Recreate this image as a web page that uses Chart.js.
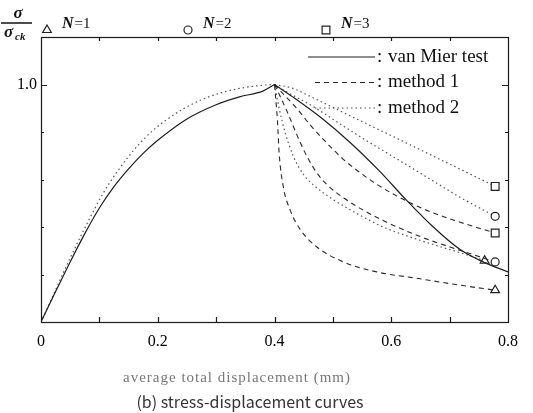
<!DOCTYPE html>
<html>
<head>
<meta charset="utf-8">
<script src="https://cdn.jsdelivr.net/npm/chart.js@4.4.1/dist/chart.umd.min.js"></script>
<style>
  html, body { margin: 0; padding: 0; background: #fff; }
  #wrap { width: 533px; height: 413px; }
</style>
</head>
<body>
<div id="wrap"><canvas id="chart" width="533" height="413"></canvas></div>
<script>
// van Mier test (split at the peak so the cusp stays sharp)
const testPreX  = [0, 0.025, 0.05, 0.075, 0.10, 0.125, 0.15, 0.175, 0.20, 0.25, 0.30, 0.34, 0.38, 0.40];
const testPreY  = [0, 0.128, 0.253, 0.372, 0.48, 0.57, 0.645, 0.71, 0.765, 0.855, 0.915, 0.948, 0.972, 1.0];
const testPostX = [0.40, 0.43, 0.48, 0.53, 0.58, 0.626, 0.672, 0.718, 0.76, 0.80];
const testPostY = [1.0, 0.95, 0.86, 0.755, 0.635, 0.513, 0.40, 0.305, 0.25, 0.211];

// both methods, pre-peak branch
const methodPreX = [0, 0.025, 0.05, 0.077, 0.106, 0.134, 0.163, 0.191, 0.22, 0.248, 0.277, 0.311, 0.346, 0.385, 0.40];
const methodPreY = [0, 0.135, 0.27, 0.405, 0.54, 0.645, 0.735, 0.805, 0.86, 0.903, 0.938, 0.967, 0.986, 0.998, 1.0];

// method 1, softening branch, N = 1, 2, 3
const m1n1X = [0.40, 0.405, 0.408, 0.415, 0.427, 0.444, 0.472, 0.518, 0.575, 0.644, 0.718, 0.778];
const m1n1Y = [1.0, 0.85, 0.71, 0.57, 0.47, 0.39, 0.317, 0.253, 0.211, 0.184, 0.155, 0.134];
const m1n2X = [0.40, 0.421, 0.438, 0.455, 0.472, 0.489, 0.52, 0.56, 0.61, 0.66, 0.72, 0.778];
const m1n2Y = [1.0, 0.89, 0.79, 0.70, 0.63, 0.58, 0.52, 0.46, 0.40, 0.35, 0.30, 0.253];
const m1n3X = [0.40, 0.415, 0.438, 0.461, 0.489, 0.518, 0.546, 0.575, 0.61, 0.661, 0.718, 0.778];
const m1n3Y = [1.0, 0.96, 0.90, 0.83, 0.755, 0.685, 0.63, 0.58, 0.53, 0.47, 0.42, 0.375];

// method 2, softening branch, N = 1, 2, 3
const m2n1X = [0.40, 0.408, 0.418, 0.432, 0.45, 0.475, 0.504, 0.541, 0.586, 0.63, 0.68, 0.72, 0.76];
const m2n1Y = [1.0, 0.90, 0.80, 0.70, 0.62, 0.56, 0.51, 0.457, 0.40, 0.36, 0.32, 0.29, 0.258];
const m2n2X = [0.40, 0.42, 0.461, 0.518, 0.56, 0.604, 0.661, 0.718, 0.778];
const m2n2Y = [1.0, 0.97, 0.915, 0.825, 0.76, 0.695, 0.61, 0.525, 0.445];
const m2n3X = [0.40, 0.43, 0.461, 0.518, 0.56, 0.604, 0.65, 0.689, 0.735, 0.778];
const m2n3Y = [1.0, 0.985, 0.95, 0.882, 0.832, 0.78, 0.725, 0.678, 0.623, 0.571];

const legendLabels = ['van Mier test', 'method 1', 'method 2'];
const markerLabels = ['N=1', 'N=2', 'N=3'];
const markerStyles = ['triangle', 'circle', 'rect'];
const markerSizes  = [5, 4, 5.5];

const styles = {
  test: { color: '#1e1e1e', dash: [],     width: 1.2 },
  m1:   { color: '#2a2a2a', dash: [5, 4], width: 1.1 },
  m2:   { color: '#555555', dash: [1.5, 3], width: 1.2 }
};

const pts = (xs, ys) => xs.map((v, i) => ({ x: v, y: ys[i] }));

function line(xs, ys, st, marker) {
  const n = xs.length;
  return {
    data: pts(xs, ys),
    borderColor: st.color,
    borderDash: st.dash,
    borderWidth: st.width,
    cubicInterpolationMode: 'monotone',
    fill: false,
    pointStyle: marker >= 0 ? markerStyles[marker] : false,
    pointRadius: c => (marker >= 0 && c.dataIndex === n - 1) ? markerSizes[marker] : 0,
    pointBackgroundColor: '#fff',
    pointBorderColor: '#222',
    pointBorderWidth: 1.2
  };
}

const serif = '"Liberation Serif", "DejaVu Serif", serif';

// frame, inward ticks, legend and captions
const decor = {
  id: 'decor',
  afterDraw(chart) {
    const { ctx, chartArea: a, scales: { x, y } } = chart;
    ctx.save();
    ctx.strokeStyle = '#1a1a1a';
    ctx.lineWidth = 1.2;
    ctx.setLineDash([]);
    ctx.strokeRect(a.left + 0.5, a.top + 0.5, a.right - a.left, a.bottom - a.top);

    ctx.beginPath();
    x.ticks.forEach(t => {
      const px = Math.round(x.getPixelForValue(t.value)) + 0.5;
      if (px <= a.left + 2 || px >= a.right - 2) return;
      ctx.moveTo(px, a.bottom); ctx.lineTo(px, a.bottom - 5);
      ctx.moveTo(px, a.top); ctx.lineTo(px, a.top + 4);
    });
    y.ticks.forEach(t => {
      const py = Math.round(y.getPixelForValue(t.value)) + 0.5;
      if (py <= a.top + 2 || py >= a.bottom - 2) return;
      const len = Math.abs(t.value - 1) < 1e-6 ? 6 : 3;
      ctx.moveTo(a.left, py); ctx.lineTo(a.left + len, py);
      ctx.moveTo(a.right, py); ctx.lineTo(a.right - len, py);
    });
    ctx.stroke();

    // legend inside the plot, top right
    const rows = [styles.test, styles.m1, styles.m2];
    const starts = [308, 315, 315];
    ctx.font = '19px ' + serif;
    ctx.textBaseline = 'middle';
    ctx.fillStyle = '#111';
    rows.forEach((st, i) => {
      const ly = 57 + i * 25.5;
      ctx.beginPath();
      ctx.strokeStyle = st.color;
      ctx.lineWidth = st.width;
      ctx.setLineDash(st.dash);
      ctx.moveTo(starts[i], ly); ctx.lineTo(375, ly);
      ctx.stroke();
      ctx.setLineDash([]);
      ctx.textAlign = 'left';
      ctx.fillText(':', 377, ly);
      ctx.fillText(legendLabels[i], 388, ly);
    });

    // N markers above the frame
    const mx = [47, 188, 326];
    ctx.strokeStyle = '#222';
    ctx.lineWidth = 1.2;
    markerStyles.forEach((ps, i) => {
      ctx.fillStyle = '#fff';
      Chart.helpers.drawPoint(ctx, { pointStyle: ps, radius: markerSizes[i], rotation: 0, borderWidth: 1.2 }, mx[i], 30);
      const parts = markerLabels[i].split('=');
      ctx.fillStyle = '#111';
      ctx.textAlign = 'left';
      ctx.font = 'italic bold 16px ' + serif;
      let tx = mx[i] + 15;
      ctx.fillText(parts[0], tx, 24);
      tx += ctx.measureText(parts[0]).width + 1;
      ctx.font = '15px ' + serif;
      ctx.fillText('=' + parts[1], tx, 24);
    });

    // y title as a fraction
    ctx.fillStyle = '#111';
    ctx.textAlign = 'center';
    ctx.font = 'italic bold 17px ' + serif;
    ctx.fillText('σ', 18, 14);
    ctx.beginPath();
    ctx.lineWidth = 1.5;
    ctx.strokeStyle = '#111';
    ctx.moveTo(1, 23); ctx.lineTo(32, 23);
    ctx.stroke();
    ctx.textAlign = 'left';
    ctx.textBaseline = 'alphabetic';
    ctx.fillText('σ', 4, 37);
    ctx.font = 'italic bold 11px ' + serif;
    ctx.fillText('ck', 15, 40);

    // x title and caption
    ctx.textAlign = 'center';
    ctx.textBaseline = 'middle';
    ctx.fillStyle = '#777';
    ctx.font = '15px ' + serif;
    if ('letterSpacing' in ctx) ctx.letterSpacing = '1px';
    ctx.fillText('average total displacement (mm)', 237, 378);
    if ('letterSpacing' in ctx) ctx.letterSpacing = '0px';
    ctx.fillStyle = '#333';
    ctx.font = '16px "Noto Sans CJK KR", "Noto Sans", sans-serif';
    ctx.fillText('(b) stress-displacement curves', 250, 402);
    ctx.restore();
  }
};

new Chart(document.getElementById('chart'), {
  type: 'line',
  data: {
    datasets: [
      line(testPreX, testPreY, styles.test, -1),
      line(testPostX, testPostY, styles.test, -1),
      line(methodPreX, methodPreY, styles.m2, -1),
      line(m1n1X, m1n1Y, styles.m1, 0),
      line(m1n2X, m1n2Y, styles.m1, 1),
      line(m1n3X, m1n3Y, styles.m1, 2),
      line(m2n1X, m2n1Y, styles.m2, 0),
      line(m2n2X, m2n2Y, styles.m2, 1),
      line(m2n3X, m2n3Y, styles.m2, 2)
    ]
  },
  options: {
    responsive: false,
    animation: false,
    devicePixelRatio: 1,
    layout: { padding: { top: 37, right: 25, left: 0, bottom: 0 } },
    plugins: { legend: { display: false }, tooltip: { enabled: false } },
    scales: {
      x: {
        type: 'linear',
        min: 0, max: 0.8,
        grid: { display: false, drawTicks: false },
        border: { display: false },
        afterFit: s => { s.height = 91; },
        ticks: {
          stepSize: 0.1,
          autoSkip: false,
          maxRotation: 0,
          padding: 10,
          color: '#000',
          font: { family: serif, size: 16 },
          callback: v => {
            const r = Math.round(v * 10);
            if (r % 2) return '';
            return r === 0 ? '0' : (r / 10).toFixed(1);
          }
        }
      },
      y: {
        min: 0, max: 1.2,
        grid: { display: false, drawTicks: false },
        border: { display: false },
        afterFit: s => { s.width = 41; },
        ticks: {
          stepSize: 0.2,
          padding: 4,
          color: '#000',
          font: { family: serif, size: 16 },
          callback: v => Math.abs(v - 1) < 1e-6 ? '1.0' : ''
        }
      }
    }
  },
  plugins: [decor]
});
</script>
</body>
</html>
